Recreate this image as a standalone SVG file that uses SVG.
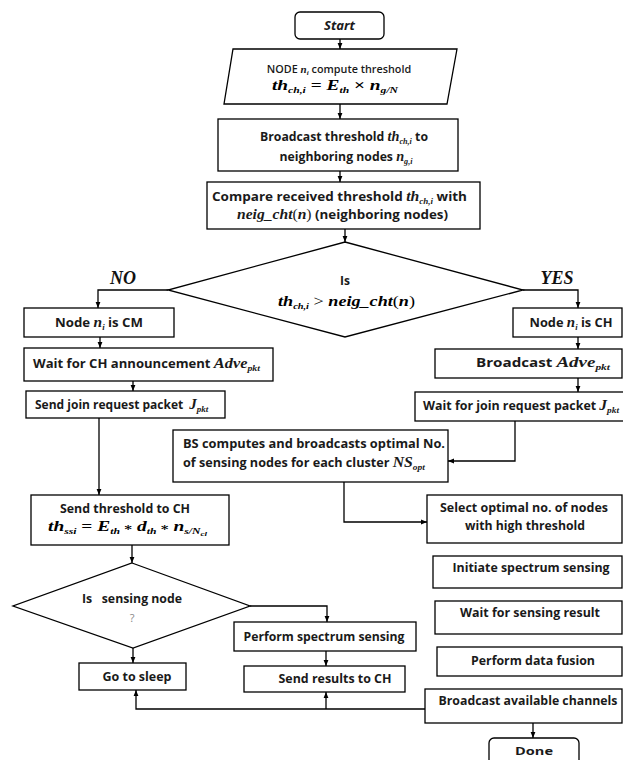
<svg xmlns="http://www.w3.org/2000/svg" width="623" height="760" viewBox="0 0 623 760">
<style>
.box{fill:#fff;stroke:#000;stroke-width:1.3}
.conn{fill:none;stroke:#000;stroke-width:1.3}
.t{font-family:"Open Sans","Liberation Sans",sans-serif;font-weight:700;font-size:12px;fill:#1a1a1a}
.m{font-family:"Liberation Serif","DejaVu Serif",serif;font-style:italic;font-weight:bold}
.c{text-anchor:middle}
.lbl{font-family:"Liberation Serif",serif;font-style:italic;font-weight:bold;font-size:18px;fill:#111}
</style>
<defs>
<marker id="ah" viewBox="0 0 10 10" refX="10" refY="5" markerWidth="6" markerHeight="6" orient="auto" markerUnits="userSpaceOnUse">
<path d="M0,1 L10,5 L0,9 z" fill="#000"/>
</marker>
</defs>
<rect width="623" height="760" fill="#fff"/>

<g id="connectors">
<path class="conn" d="M340,39 V49" marker-end="url(#ah)"/>
<path class="conn" d="M340,104 V119" marker-end="url(#ah)"/>
<path class="conn" d="M340,171 V182" marker-end="url(#ah)"/>
<path class="conn" d="M345,229 V242" marker-end="url(#ah)"/>
<path class="conn" d="M168,290 H98 V308" marker-end="url(#ah)"/>
<path class="conn" d="M523,290 H578 V308" marker-end="url(#ah)"/>
<path class="conn" d="M100,337 V348" marker-end="url(#ah)"/>
<path class="conn" d="M133,381 V391" marker-end="url(#ah)"/>
<path class="conn" d="M99,418 V495" marker-end="url(#ah)"/>
<path class="conn" d="M578,337 V349" marker-end="url(#ah)"/>
<path class="conn" d="M578,378 V392" marker-end="url(#ah)"/>
<path class="conn" d="M515,421 V461 H448" marker-end="url(#ah)"/>
<path class="conn" d="M344,482 V522 H427" marker-end="url(#ah)"/>
<path class="conn" d="M132,545 V563" marker-end="url(#ah)"/>
<path class="conn" d="M250,606 H327 V622" marker-end="url(#ah)"/>
<path class="conn" d="M133,648 V663" marker-end="url(#ah)"/>
<path class="conn" d="M326,651 V666" marker-end="url(#ah)"/>
<path class="conn" d="M425,709 H136 V690" marker-end="url(#ah)"/>
<path class="conn" d="M326,709 V692" marker-end="url(#ah)"/>
<path class="conn" d="M533,723 V738" marker-end="url(#ah)"/>
<text class="lbl" x="123" y="284" text-anchor="middle">NO</text>
<text class="lbl" x="557" y="284" text-anchor="middle">YES</text>
</g>

<g id="start">
<rect class="box" x="295" y="12" width="89" height="27" rx="5"/>
<text class="t c" x="339.5" y="30" font-style="italic" textLength="31" lengthAdjust="spacingAndGlyphs">Start</text>
</g>

<g id="compute">
<polygon class="box" points="233,49 457,49 447,104 224,104"/>
<text class="t c" x="339" y="73" style="font-size:10.8px;font-weight:600">NODE <tspan class="m" font-size="11">n</tspan><tspan class="m" font-size="7" dy="2">i</tspan><tspan dy="-2" dx="3">compute threshold</tspan></text>
<text class="m c" x="335" y="90" font-size="15" textLength="126" lengthAdjust="spacingAndGlyphs">th<tspan font-size="9" dy="3">ch,i</tspan><tspan dy="-3" font-style="normal"> = </tspan><tspan>E</tspan><tspan font-size="9" dy="3">th</tspan><tspan dy="-3" font-style="normal"> × </tspan><tspan>n</tspan><tspan font-size="9" dy="3">g/N</tspan></text>
</g>

<g id="broadcast-threshold">
<rect class="box" x="218" y="119" width="240" height="52"/>
<text class="t c" x="344" y="141" textLength="168" lengthAdjust="spacingAndGlyphs">Broadcast threshold <tspan class="m" font-size="14">th</tspan><tspan class="m" font-size="8" dy="3">ch,i</tspan><tspan dy="-3"> to</tspan></text>
<text class="t c" x="346" y="161" textLength="133" lengthAdjust="spacingAndGlyphs">neighboring nodes <tspan class="m" font-size="14">n</tspan><tspan class="m" font-size="8" dy="3">g,i</tspan></text>
</g>

<g id="compare">
<rect class="box" x="207" y="182" width="273" height="47"/>
<text class="t" x="212" y="201" textLength="255" lengthAdjust="spacingAndGlyphs">Compare received threshold <tspan class="m" font-size="14">th</tspan><tspan class="m" font-size="8" dy="3">ch,i</tspan><tspan dy="-3"> with</tspan></text>
<text class="t" x="237" y="219" textLength="211" lengthAdjust="spacingAndGlyphs"><tspan class="m" font-size="14">neig_cht</tspan><tspan font-family="Liberation Serif" font-weight="normal" font-size="14">(</tspan><tspan class="m" font-size="14" font-weight="normal">n</tspan><tspan font-family="Liberation Serif" font-weight="normal" font-size="14">)</tspan> (neighboring nodes)</text>
</g>

<g id="decision-ch">
<polygon class="box" points="345,242 523,290 345,337 168,290"/>
<text class="t c" x="345" y="285">Is</text>
<text class="m" x="278" y="306" font-size="14" textLength="137" lengthAdjust="spacingAndGlyphs">th<tspan font-size="8" dy="3">ch,i</tspan><tspan dy="-3" font-style="normal" font-weight="normal"> &gt; </tspan><tspan>neig_cht</tspan><tspan font-style="normal" font-weight="normal">(</tspan><tspan>n</tspan><tspan font-style="normal" font-weight="normal">)</tspan></text>
</g>

<g id="node-cm">
<rect class="box" x="24" y="308" width="150" height="29"/>
<text class="t c" x="99" y="327" textLength="88" lengthAdjust="spacingAndGlyphs">Node <tspan class="m" font-size="14">n</tspan><tspan class="m" font-size="8" dy="3">i</tspan><tspan dy="-3"> is CM</tspan></text>
</g>

<g id="wait-ch">
<rect class="box" x="24" y="348" width="249" height="33"/>
<text class="t" x="33" y="368" textLength="227" lengthAdjust="spacingAndGlyphs">Wait for CH announcement <tspan class="m" font-size="15">Adve</tspan><tspan class="m" font-size="9" dy="3">pkt</tspan></text>
</g>

<g id="send-join">
<rect class="box" x="26" y="391" width="199" height="27"/>
<text class="t" x="35" y="409">Send join request packet<tspan class="m" font-size="15" dx="6">J</tspan><tspan class="m" font-size="9" dy="3">pkt</tspan></text>
</g>

<g id="node-ch">
<rect class="box" x="513" y="308" width="109" height="29"/>
<text class="t c" x="571" y="327" textLength="83" lengthAdjust="spacingAndGlyphs">Node <tspan class="m" font-size="14">n</tspan><tspan class="m" font-size="8" dy="3">i</tspan><tspan dy="-3"> is CH</tspan></text>
</g>

<g id="broadcast-adve">
<rect class="box" x="435" y="349" width="187" height="29"/>
<text class="t" x="476" y="367" textLength="134" lengthAdjust="spacingAndGlyphs">Broadcast  <tspan class="m" font-size="15">Adve</tspan><tspan class="m" font-size="9" dy="3">pkt</tspan></text>
</g>

<g id="wait-join">
<rect class="box" x="415" y="392" width="212" height="29"/>
<text class="t" x="423" y="410" textLength="196" lengthAdjust="spacingAndGlyphs">Wait for join request packet <tspan class="m" font-size="15">J</tspan><tspan class="m" font-size="9" dy="3">pkt</tspan></text>
</g>

<g id="bs-computes">
<rect class="box" x="173" y="430" width="275" height="52"/>
<text class="t" x="183" y="448" textLength="262" lengthAdjust="spacingAndGlyphs">BS computes and broadcasts optimal No.</text>
<text class="t" x="183" y="467" textLength="242" lengthAdjust="spacingAndGlyphs">of sensing nodes for each cluster <tspan class="m" font-size="15">NS</tspan><tspan class="m" font-size="9" dy="3">opt</tspan></text>
</g>

<g id="send-threshold">
<rect class="box" x="31" y="495" width="198" height="50"/>
<text class="t c" x="125" y="513" textLength="130" lengthAdjust="spacingAndGlyphs">Send threshold to CH</text>
<text class="m" x="48" y="531" font-size="15" textLength="159" lengthAdjust="spacingAndGlyphs">th<tspan font-size="9" dy="3">ssi</tspan><tspan dy="-3" font-style="normal"> =  </tspan><tspan>E</tspan><tspan font-size="9" dy="3">th</tspan><tspan dy="-3" font-style="normal" font-size="11"> ∗ </tspan><tspan>d</tspan><tspan font-size="9" dy="3">th</tspan><tspan dy="-3" font-style="normal" font-size="11"> ∗ </tspan><tspan>n</tspan><tspan font-size="9" dy="3">s/N</tspan><tspan font-size="7" dy="2">cl</tspan></text>
</g>

<g id="select-optimal">
<rect class="box" x="427" y="495" width="195" height="48"/>
<text class="t c" x="524" y="512" textLength="168" lengthAdjust="spacingAndGlyphs">Select optimal no. of nodes</text>
<text class="t c" x="525" y="530" textLength="120" lengthAdjust="spacingAndGlyphs">with high threshold</text>
</g>

<g id="decision-sensing">
<polygon class="box" points="132,563 250,606 133,648 13,606"/>
<text class="t c" x="132" y="603" textLength="100" lengthAdjust="spacingAndGlyphs" xml:space="preserve">Is   sensing node</text>
<text class="t c" x="132" y="622" style="fill:#888;font-weight:400;font-size:11px">?</text>
</g>

<g id="initiate">
<rect class="box" x="433" y="556" width="189" height="32"/>
<text class="t c" x="531" y="572" textLength="157" lengthAdjust="spacingAndGlyphs">Initiate spectrum sensing</text>
</g>

<g id="wait-sensing">
<rect class="box" x="435" y="601" width="187" height="33"/>
<text class="t c" x="530" y="617" textLength="140" lengthAdjust="spacingAndGlyphs">Wait for sensing result</text>
</g>

<g id="perform-sensing">
<rect class="box" x="234" y="622" width="182" height="29"/>
<text class="t c" x="324" y="641" textLength="161" lengthAdjust="spacingAndGlyphs">Perform spectrum sensing</text>
</g>

<g id="data-fusion">
<rect class="box" x="437" y="647" width="185" height="29"/>
<text class="t c" x="533" y="665" textLength="124" lengthAdjust="spacingAndGlyphs">Perform data fusion</text>
</g>

<g id="go-sleep">
<rect class="box" x="79" y="663" width="107" height="27"/>
<text class="t c" x="137" y="681" textLength="69" lengthAdjust="spacingAndGlyphs">Go to sleep</text>
</g>

<g id="send-results">
<rect class="box" x="244" y="666" width="161" height="26"/>
<text class="t c" x="335" y="683" textLength="113" lengthAdjust="spacingAndGlyphs">Send results to CH</text>
</g>

<g id="broadcast-channels">
<rect class="box" x="425" y="689" width="197" height="34"/>
<text class="t c" x="528" y="705" textLength="179" lengthAdjust="spacingAndGlyphs">Broadcast available channels</text>
</g>

<g id="done">
<rect class="box" x="489" y="738" width="90" height="30" rx="5"/>
<text class="t c" x="534" y="755" style="font-size:10.5px" textLength="38" lengthAdjust="spacingAndGlyphs">Done</text>
</g>
</svg>
